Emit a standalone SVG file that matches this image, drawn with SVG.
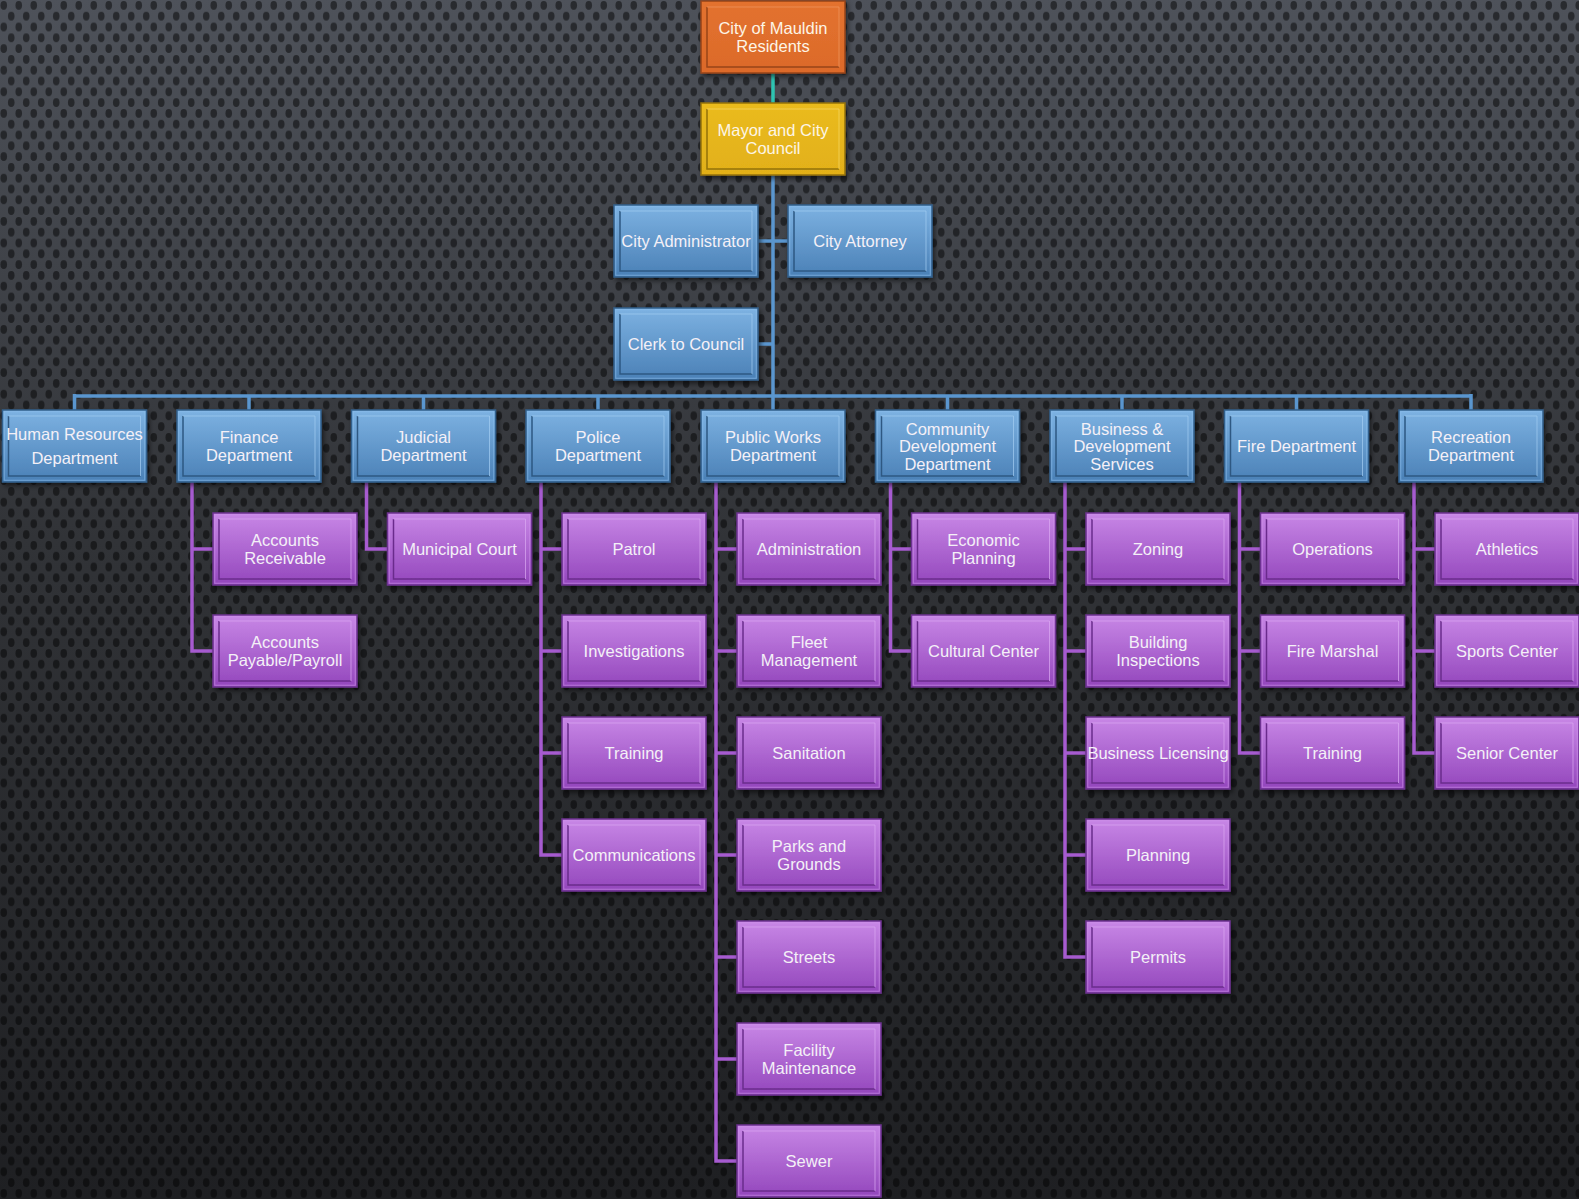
<svg xmlns="http://www.w3.org/2000/svg" xmlns:xlink="http://www.w3.org/1999/xlink" width="1579" height="1199" viewBox="0 0 1579 1199">
  <defs>
    <style>
      text { font-family: "Liberation Sans", Arial, sans-serif; font-size: 16.5px; text-anchor: middle; fill: #f4f0f7; }
      .warm { fill: #fdf5e6; }
      .ln-top { fill: none; stroke: #2ec4b2; stroke-width: 3.5; }
      .ln-blue { fill: none; stroke: #5a96cf; stroke-width: 3.5; }
      .ln-purple { fill: none; stroke: #a65bd0; stroke-width: 3.5; }
      .shadow { filter: url(#drop); }
    </style>

    <!-- background -->
    <linearGradient id="bg" x1="0" y1="0" x2="0" y2="1">
      <stop offset="0" stop-color="#4e525a"/>
      <stop offset="0.45" stop-color="#313337"/>
      <stop offset="1" stop-color="#1e1f22"/>
    </linearGradient>
    <pattern id="perf" width="15" height="21.6" patternUnits="userSpaceOnUse">
      <ellipse cx="3.75" cy="5.4" rx="3.3" ry="4.4" fill="#000" opacity="0.48"/>
      <ellipse cx="11.25" cy="16.2" rx="3.3" ry="4.4" fill="#000" opacity="0.48"/>
    </pattern>

    <!-- box fills -->
    <linearGradient id="gBlue" x1="0" y1="0" x2="0" y2="1">
      <stop offset="0" stop-color="#7db2e2"/>
      <stop offset="1" stop-color="#4a80b6"/>
    </linearGradient>
    <linearGradient id="gPurple" x1="0" y1="0" x2="0" y2="1">
      <stop offset="0" stop-color="#c887e6"/>
      <stop offset="1" stop-color="#9346bc"/>
    </linearGradient>
    <linearGradient id="gOrange" x1="0" y1="0" x2="0" y2="1">
      <stop offset="0" stop-color="#e3722f"/>
      <stop offset="1" stop-color="#dc6a2a"/>
    </linearGradient>
    <linearGradient id="gYellow" x1="0" y1="0" x2="0" y2="1">
      <stop offset="0" stop-color="#eabb1e"/>
      <stop offset="1" stop-color="#e2b019"/>
    </linearGradient>

    <filter id="drop" x="-10%" y="-15%" width="125%" height="140%">
      <feDropShadow dx="2" dy="3" stdDeviation="2.5" flood-color="#000" flood-opacity="0.55"/>
    </filter>

    <!-- bevelled 144x72 boxes -->
    <g id="bx-blue">
      <rect x="0" y="0" width="144" height="72" fill="url(#gBlue)" stroke="#33608c" stroke-width="1.5"/>
      <rect x="1.75" y="1.75" width="140.5" height="68.5" fill="none" stroke="#8ec0ec" stroke-width="1" opacity="0.6"/>
      <path d="M6 6 V66 H138" fill="none" stroke="#2d5882" stroke-width="1.5"/>
      <path d="M6 6 H138 V66" fill="none" stroke="#a4cdf2" stroke-width="1" opacity="0.7"/>
    </g>
    <g id="bx-purple">
      <rect x="0" y="0" width="144" height="72" fill="url(#gPurple)" stroke="#6c3290" stroke-width="1.5"/>
      <rect x="1.75" y="1.75" width="140.5" height="68.5" fill="none" stroke="#cf92ea" stroke-width="1" opacity="0.6"/>
      <path d="M6 6 V66 H138" fill="none" stroke="#6a2c8c" stroke-width="1.5"/>
      <path d="M6 6 H138 V66" fill="none" stroke="#dcaaf2" stroke-width="1" opacity="0.7"/>
    </g>
    <g id="bx-orange">
      <rect x="0" y="0" width="144" height="72" fill="url(#gOrange)" stroke="#97441a" stroke-width="1.5"/>
      <path d="M6 6 V66 H138" fill="none" stroke="#98461a" stroke-width="1.5"/>
      <path d="M6 6 H138 V66" fill="none" stroke="#f0995e" stroke-width="1" opacity="0.7"/>
    </g>
    <g id="bx-yellow">
      <rect x="0" y="0" width="144" height="72" fill="url(#gYellow)" stroke="#93710c" stroke-width="1.5"/>
      <path d="M6 6 V66 H138" fill="none" stroke="#93710c" stroke-width="1.5"/>
      <path d="M6 6 H138 V66" fill="none" stroke="#f6d868" stroke-width="1" opacity="0.7"/>
    </g>
  </defs>

  <rect x="0" y="0" width="1579" height="1199" fill="url(#bg)"/>
  <rect x="0" y="0" width="1579" height="1199" fill="url(#perf)"/>

  <!-- connectors -->
  <g id="connectors">
    <path class="ln-top" d="M773 73 V103"/>
    <path class="ln-blue" d="M773 175 V396 M758 241 H788 M758 344 H773"/>
    <path class="ln-blue" d="M74.5 396 H1471 M74.5 394 V410 M249 396 V410 M423.5 396 V410 M598 396 V410 M773 396 V410 M947.5 396 V410 M1122 396 V410 M1296.5 396 V410 M1471 394 V410"/>
    <!-- finance -->
    <path class="ln-purple" d="M192 482 V651 H213 M192 549 H213"/>
    <!-- judicial -->
    <path class="ln-purple" d="M366.5 482 V549 H387.5"/>
    <!-- police -->
    <path class="ln-purple" d="M541 482 V855 H562 M541 549 H562 M541 651 H562 M541 753 H562"/>
    <!-- public works -->
    <path class="ln-purple" d="M716 482 V1161 H737 M716 549 H737 M716 651 H737 M716 753 H737 M716 855 H737 M716 957 H737 M716 1059 H737"/>
    <!-- community development -->
    <path class="ln-purple" d="M890.5 482 V651 H911.5 M890.5 549 H911.5"/>
    <!-- business & development -->
    <path class="ln-purple" d="M1065 482 V957 H1086 M1065 549 H1086 M1065 651 H1086 M1065 753 H1086 M1065 855 H1086"/>
    <!-- fire -->
    <path class="ln-purple" d="M1239.5 482 V753 H1260.5 M1239.5 549 H1260.5 M1239.5 651 H1260.5"/>
    <!-- recreation -->
    <path class="ln-purple" d="M1414 482 V753 H1435 M1414 549 H1435 M1414 651 H1435"/>
  </g>

  <!-- leadership -->
  <g id="residents">
    <use href="#bx-orange" x="701" y="1" class="shadow"/>
    <text class="warm"><tspan x="773" y="34.25">City of Mauldin</tspan><tspan x="773" y="51.75">Residents</tspan></text>
  </g>
  <g id="mayor-council">
    <use href="#bx-yellow" x="701" y="103" class="shadow"/>
    <text class="warm"><tspan x="773" y="136.25">Mayor and City</tspan><tspan x="773" y="153.75">Council</tspan></text>
  </g>
  <g id="city-administrator">
    <use href="#bx-blue" x="614" y="205" class="shadow"/>
    <text x="686" y="247">City Administrator</text>
  </g>
  <g id="city-attorney">
    <use href="#bx-blue" x="788" y="205" class="shadow"/>
    <text x="860" y="247">City Attorney</text>
  </g>
  <g id="clerk">
    <use href="#bx-blue" x="614" y="308" class="shadow"/>
    <text x="686" y="350">Clerk to Council</text>
  </g>

  <!-- departments -->
  <g id="dept-hr">
    <use href="#bx-blue" x="2.5" y="410" class="shadow"/>
    <text><tspan x="74.5" y="440">Human Resources</tspan><tspan x="74.5" y="464">Department</tspan></text>
  </g>
  <g id="dept-finance">
    <use href="#bx-blue" x="177" y="410" class="shadow"/>
    <text><tspan x="249" y="443.25">Finance</tspan><tspan x="249" y="460.75">Department</tspan></text>
  </g>
  <g id="dept-judicial">
    <use href="#bx-blue" x="351.5" y="410" class="shadow"/>
    <text><tspan x="423.5" y="443.25">Judicial</tspan><tspan x="423.5" y="460.75">Department</tspan></text>
  </g>
  <g id="dept-police">
    <use href="#bx-blue" x="526" y="410" class="shadow"/>
    <text><tspan x="598" y="443.25">Police</tspan><tspan x="598" y="460.75">Department</tspan></text>
  </g>
  <g id="dept-public-works">
    <use href="#bx-blue" x="701" y="410" class="shadow"/>
    <text><tspan x="773" y="443.25">Public Works</tspan><tspan x="773" y="460.75">Department</tspan></text>
  </g>
  <g id="dept-community">
    <use href="#bx-blue" x="875.5" y="410" class="shadow"/>
    <text><tspan x="947.5" y="434.5">Community</tspan><tspan x="947.5" y="452">Development</tspan><tspan x="947.5" y="469.5">Department</tspan></text>
  </g>
  <g id="dept-business">
    <use href="#bx-blue" x="1050" y="410" class="shadow"/>
    <text><tspan x="1122" y="434.5">Business &amp;</tspan><tspan x="1122" y="452">Development</tspan><tspan x="1122" y="469.5">Services</tspan></text>
  </g>
  <g id="dept-fire">
    <use href="#bx-blue" x="1224.5" y="410" class="shadow"/>
    <text x="1296.5" y="452">Fire Department</text>
  </g>
  <g id="dept-recreation">
    <use href="#bx-blue" x="1399" y="410" class="shadow"/>
    <text><tspan x="1471" y="443.25">Recreation</tspan><tspan x="1471" y="460.75">Department</tspan></text>
  </g>

  <!-- finance units -->
  <g id="fin-receivable">
    <use href="#bx-purple" x="213" y="513" class="shadow"/>
    <text><tspan x="285" y="546.25">Accounts</tspan><tspan x="285" y="563.75">Receivable</tspan></text>
  </g>
  <g id="fin-payable">
    <use href="#bx-purple" x="213" y="615" class="shadow"/>
    <text><tspan x="285" y="648.25">Accounts</tspan><tspan x="285" y="665.75">Payable/Payroll</tspan></text>
  </g>

  <!-- judicial units -->
  <g id="jud-court">
    <use href="#bx-purple" x="387.5" y="513" class="shadow"/>
    <text x="459.5" y="555">Municipal Court</text>
  </g>

  <!-- police units -->
  <g id="pol-patrol">
    <use href="#bx-purple" x="562" y="513" class="shadow"/>
    <text x="634" y="555">Patrol</text>
  </g>
  <g id="pol-investigations">
    <use href="#bx-purple" x="562" y="615" class="shadow"/>
    <text x="634" y="657">Investigations</text>
  </g>
  <g id="pol-training">
    <use href="#bx-purple" x="562" y="717" class="shadow"/>
    <text x="634" y="759">Training</text>
  </g>
  <g id="pol-communications">
    <use href="#bx-purple" x="562" y="819" class="shadow"/>
    <text x="634" y="861">Communications</text>
  </g>

  <!-- public works units -->
  <g id="pw-administration">
    <use href="#bx-purple" x="737" y="513" class="shadow"/>
    <text x="809" y="555">Administration</text>
  </g>
  <g id="pw-fleet">
    <use href="#bx-purple" x="737" y="615" class="shadow"/>
    <text><tspan x="809" y="648.25">Fleet</tspan><tspan x="809" y="665.75">Management</tspan></text>
  </g>
  <g id="pw-sanitation">
    <use href="#bx-purple" x="737" y="717" class="shadow"/>
    <text x="809" y="759">Sanitation</text>
  </g>
  <g id="pw-parks">
    <use href="#bx-purple" x="737" y="819" class="shadow"/>
    <text><tspan x="809" y="852.25">Parks and</tspan><tspan x="809" y="869.75">Grounds</tspan></text>
  </g>
  <g id="pw-streets">
    <use href="#bx-purple" x="737" y="921" class="shadow"/>
    <text x="809" y="963">Streets</text>
  </g>
  <g id="pw-facility">
    <use href="#bx-purple" x="737" y="1023" class="shadow"/>
    <text><tspan x="809" y="1056.25">Facility</tspan><tspan x="809" y="1073.75">Maintenance</tspan></text>
  </g>
  <g id="pw-sewer">
    <use href="#bx-purple" x="737" y="1125" class="shadow"/>
    <text x="809" y="1167">Sewer</text>
  </g>

  <!-- community development units -->
  <g id="cd-economic">
    <use href="#bx-purple" x="911.5" y="513" class="shadow"/>
    <text><tspan x="983.5" y="546.25">Economic</tspan><tspan x="983.5" y="563.75">Planning</tspan></text>
  </g>
  <g id="cd-cultural">
    <use href="#bx-purple" x="911.5" y="615" class="shadow"/>
    <text x="983.5" y="657">Cultural Center</text>
  </g>

  <!-- business & development units -->
  <g id="bd-zoning">
    <use href="#bx-purple" x="1086" y="513" class="shadow"/>
    <text x="1158" y="555">Zoning</text>
  </g>
  <g id="bd-inspections">
    <use href="#bx-purple" x="1086" y="615" class="shadow"/>
    <text><tspan x="1158" y="648.25">Building</tspan><tspan x="1158" y="665.75">Inspections</tspan></text>
  </g>
  <g id="bd-licensing">
    <use href="#bx-purple" x="1086" y="717" class="shadow"/>
    <text x="1158" y="759">Business Licensing</text>
  </g>
  <g id="bd-planning">
    <use href="#bx-purple" x="1086" y="819" class="shadow"/>
    <text x="1158" y="861">Planning</text>
  </g>
  <g id="bd-permits">
    <use href="#bx-purple" x="1086" y="921" class="shadow"/>
    <text x="1158" y="963">Permits</text>
  </g>

  <!-- fire units -->
  <g id="fire-operations">
    <use href="#bx-purple" x="1260.5" y="513" class="shadow"/>
    <text x="1332.5" y="555">Operations</text>
  </g>
  <g id="fire-marshal">
    <use href="#bx-purple" x="1260.5" y="615" class="shadow"/>
    <text x="1332.5" y="657">Fire Marshal</text>
  </g>
  <g id="fire-training">
    <use href="#bx-purple" x="1260.5" y="717" class="shadow"/>
    <text x="1332.5" y="759">Training</text>
  </g>

  <!-- recreation units -->
  <g id="rec-athletics">
    <use href="#bx-purple" x="1435" y="513" class="shadow"/>
    <text x="1507" y="555">Athletics</text>
  </g>
  <g id="rec-sports">
    <use href="#bx-purple" x="1435" y="615" class="shadow"/>
    <text x="1507" y="657">Sports Center</text>
  </g>
  <g id="rec-senior">
    <use href="#bx-purple" x="1435" y="717" class="shadow"/>
    <text x="1507" y="759">Senior Center</text>
  </g>
</svg>
